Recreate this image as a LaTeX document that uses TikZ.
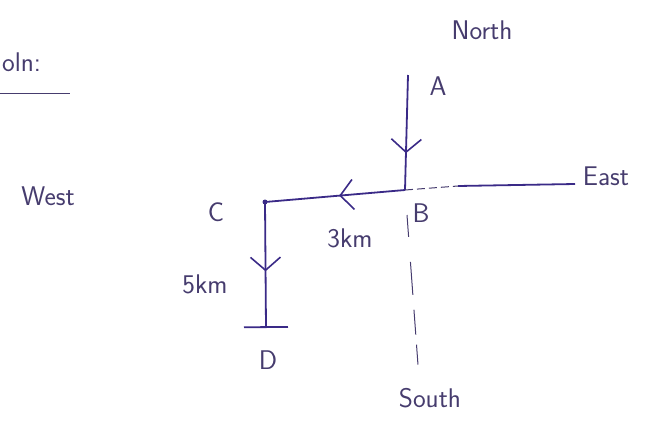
\documentclass[tikz,border=0pt]{standalone}
\usepackage{tikz}
\usetikzlibrary{arrows.meta,decorations.markings}
\definecolor{inkblue}{RGB}{58,42,135}
\definecolor{inkgray}{RGB}{70,60,110}

\begin{document}
\begin{tikzpicture}[
  x=1pt,y=-1pt,
  font=\sffamily\fontsize{27}{31}\selectfont,
  ink/.style={draw=inkblue,line width=1.8pt},
  thin ink/.style={draw=inkgray,line width=1pt},
  lbl/.style={text=inkgray,inner sep=1pt},
  midarr/.style={postaction={decorate},decoration={markings,
    mark=at position #1 with {\arrow{Straight Barb[length=13pt,width=30pt,line width=1.6pt]}}}}
]
\useasboundingbox (0,0) rectangle (663,423);
% points of the walk
\coordinate (A) at (408,75);
\coordinate (B) at (405,190);
\coordinate (C) at (265,202);
\coordinate (D) at (266,328);
\coordinate (E0) at (458,186);
\coordinate (E) at (575,184);
\coordinate (S0) at (407,215);
\coordinate (S) at (418,365);
% labels
\node[lbl,anchor=west] (soln) at (1,62) {oln:};
\node[lbl] (north) at (482,30) {North};
\node[lbl] (la) at (438,86) {A};
\node[lbl] (east) at (606,176) {East};
\node[lbl] (west) at (48,196) {West};
\node[lbl] (lc) at (216,212) {C};
\node[lbl] (lb) at (421,213) {B};
\node[lbl] (km3) at (350,238) {3km};
\node[lbl] (km5) at (205,284) {5km};
\node[lbl] (ld) at (268,360) {D};
\node[lbl] (south) at (430,398) {South};
\draw[thin ink] (0,93) -- (70,93);
% path A -> B -> C -> D
\draw[ink,midarr=0.68] (A) -- (B);
\draw[ink,midarr=0.47] (B) -- (C);
\draw[ink,midarr=0.55,-{Bar[width=44pt,line width=1.8pt]}] (C) -- (D);
\fill[inkblue] (C) circle (2.5pt);
% compass lines
\draw[thin ink,dash pattern=on 8pt off 4pt] (B) -- (E0);
\draw[ink] (E0) -- (E);
\draw[thin ink,dash pattern=on 22pt off 25pt on 33pt off 15pt on 25pt off 10pt on 20pt] (S0) -- (S);
\end{tikzpicture}
\end{document}
